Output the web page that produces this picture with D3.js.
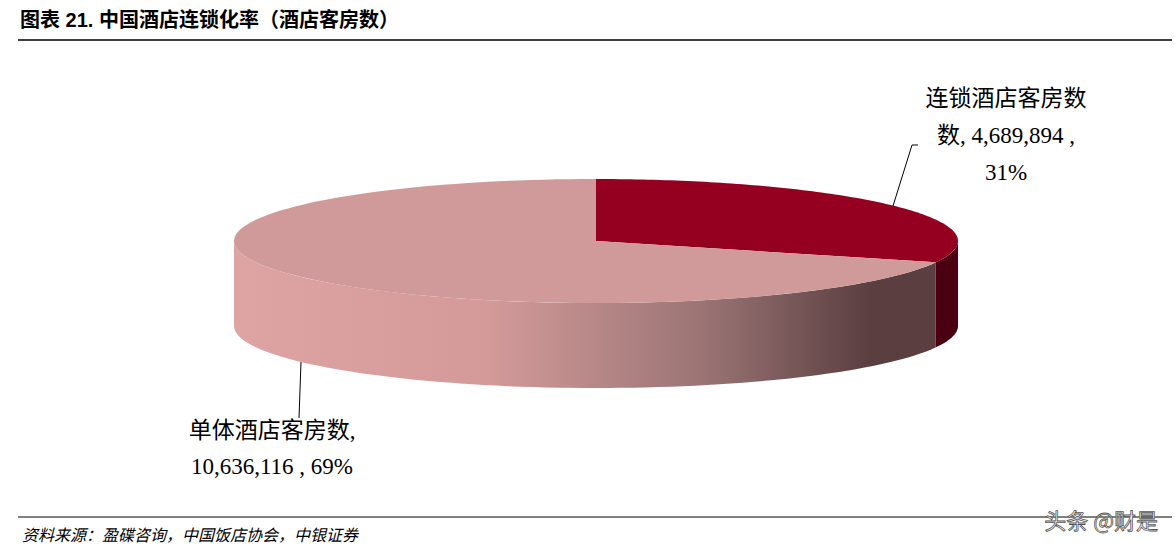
<!DOCTYPE html>
<html>
<head>
<meta charset="utf-8">
<script src="https://d3js.org/d3.v7.min.js"></script>
<style>
body { margin: 0; background: #fff; }
text { font-family: "Liberation Serif", "Noto Sans CJK SC", serif; }
</style>
</head>
<body>
<script>
var categories = ["连锁酒店客房数", "单体酒店客房数"];
var values = [4689894, 10636116];
var percents = ["31%", "69%"];

var W = 1175, H = 551;
var cx = 596, cy = 241, rx = 362, ry = 62, depth = 85;

var svg = d3.select("body").append("svg").attr("width", W).attr("height", H);
var defs = svg.append("defs");
var grad = defs.append("linearGradient").attr("id", "sideGrad")
    .attr("gradientUnits", "userSpaceOnUse")
    .attr("x1", cx - rx).attr("x2", cx + rx).attr("y1", 0).attr("y2", 0);
grad.append("stop").attr("offset", "0%").attr("stop-color", "#dea4a4");
grad.append("stop").attr("offset", "35%").attr("stop-color", "#d49a9a");
grad.append("stop").attr("offset", "65%").attr("stop-color", "#9a7474");
grad.append("stop").attr("offset", "88%").attr("stop-color", "#5a3e40");
grad.append("stop").attr("offset", "100%").attr("stop-color", "#5a3e40");

// title
svg.append("text").attr("x", 20).attr("y", 27)
    .style("font-family", "'Liberation Sans','Noto Sans CJK SC',sans-serif")
    .style("font-weight", "bold").style("font-size", "20px")
    .text("图表 21. 中国酒店连锁化率（酒店客房数）");
svg.append("line").attr("x1", 18).attr("x2", 1172).attr("y1", 40).attr("y2", 40)
    .attr("stroke", "#000").attr("stroke-width", 1.5);

var pie = d3.pie().sort(null).value(d => d);
var arcs = pie(values);
var topColors = ["#960020", "#d09a9a"];
var sideColors = ["#4a0010", "url(#sideGrad)"];

function pt(a, dy) { // a: angle from 12 o'clock clockwise
    return [cx + rx * Math.sin(a), cy - ry * Math.cos(a) + (dy || 0)];
}

// side walls (front half: a from PI/2 to 3PI/2)
arcs.forEach(function (d, i) {
    var a0 = Math.max(d.startAngle, Math.PI / 2), a1 = Math.min(d.endAngle, 3 * Math.PI / 2);
    if (a1 <= a0) return;
    var n = 80, s = d3.range(n + 1).map(k => a0 + (a1 - a0) * k / n);
    var pts = s.map(a => pt(a)).concat(s.slice().reverse().map(a => pt(a, depth)));
    svg.append("path").attr("d", d3.line()(pts) + "Z").attr("fill", sideColors[i]);
});

// top faces
arcs.forEach(function (d, i) {
    var n = 120, s = d3.range(n + 1).map(k => d.startAngle + (d.endAngle - d.startAngle) * k / n);
    var pts = [[cx, cy]].concat(s.map(a => pt(a)));
    svg.append("path").attr("d", d3.line()(pts) + "Z").attr("fill", topColors[i]);
});

// labels
var fmt = d3.format(",");
var lab = svg.append("g").style("font-size", "23px").attr("fill", "#000");
lab.append("text").attr("x", 1006).attr("y", 106).attr("text-anchor", "middle").text(categories[0]);
lab.append("text").attr("x", 1006).attr("y", 143).attr("text-anchor", "middle").text("数, " + fmt(values[0]) + " ,");
lab.append("text").attr("x", 1006).attr("y", 180).attr("text-anchor", "middle").text(percents[0]);
svg.append("path").attr("d", "M893,206 L912,145 L918,145").attr("stroke", "#000").attr("fill", "none");

lab.append("text").attr("x", 272).attr("y", 438).attr("text-anchor", "middle").text(categories[1] + ",");
lab.append("text").attr("x", 272).attr("y", 474).attr("text-anchor", "middle").text(fmt(values[1]) + " , " + percents[1]);
svg.append("path").attr("d", "M301,362 L299,418").attr("stroke", "#000").attr("fill", "none");

// footer
svg.append("line").attr("x1", 18).attr("x2", 1172).attr("y1", 517).attr("y2", 517)
    .attr("stroke", "#000").attr("stroke-width", 1);
svg.append("text").attr("x", 22).attr("y", 541).style("font-size", "16px").style("font-style", "italic")
    .text("资料来源：盈碟咨询，中国饭店协会，中银证券");
svg.append("text").attr("x", 1158).attr("y", 529).attr("text-anchor", "end")
    .style("font-family", "'Noto Sans CJK SC',sans-serif").style("font-size", "22px")
    .attr("fill", "#fff").attr("stroke", "#555").attr("stroke-width", 0.8)
    .text("头条 @财是");
</script>
</body>
</html>
